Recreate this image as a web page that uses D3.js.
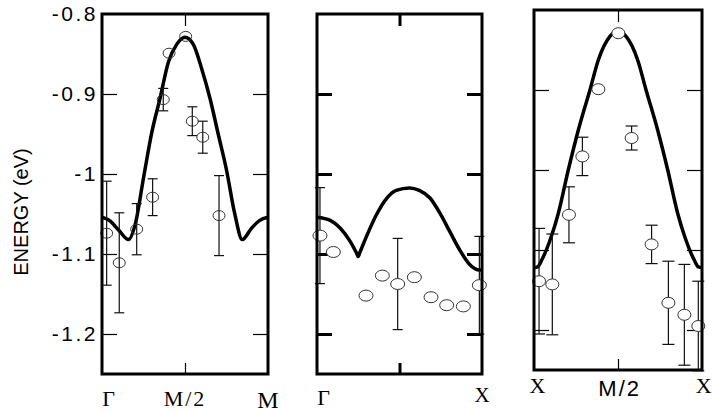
<!DOCTYPE html>
<html>
<head>
<meta charset="utf-8">
<script src="https://cdn.jsdelivr.net/npm/d3@7"></script>
<style>
body { margin: 0; background: #fff; }
</style>
</head>
<body>
<div id="chart"></div>
<script>
// Gamma -> M  (left panel)
var gmCurveK = [0, 0.05, 0.1, 0.16, 0.2, 0.25, 0.3, 0.35, 0.4, 0.45, 0.5, 0.55, 0.6, 0.65, 0.7, 0.75, 0.8, 0.845, 0.9, 0.95, 1];
var gmCurveE = [-1.054, -1.059, -1.070, -1.082, -1.063, -1.005, -0.948, -0.905, -0.860, -0.838, -0.829, -0.838, -0.868, -0.905, -0.950, -0.995, -1.050, -1.082, -1.068, -1.058, -1.054];
var gmPtK   = [0.028, 0.104, 0.209, 0.305, 0.369, 0.404, 0.504, 0.544, 0.607, 0.705];
var gmPtE   = [-1.074, -1.111, -1.069, -1.029, -0.907, -0.849, -0.828, -0.934, -0.954, -1.052];
var gmPtErr = [0.065, 0.0625, 0.032, 0.023, 0.014, 0, 0, 0.018, 0.02, 0.05];
var gmLabels = ["\u0393", "M/2", "M"];

// Gamma -> X  (middle panel)
var gxCurveK = [0, 0.08, 0.14, 0.2, 0.24, 0.25, 0.26, 0.3, 0.36, 0.42, 0.48, 0.56, 0.62, 0.685, 0.745, 0.805, 0.865, 0.925, 0.985, 1];
var gxCurveE = [-1.054, -1.058, -1.0675, -1.084, -1.099, -1.103, -1.098, -1.078, -1.051, -1.031, -1.0205, -1.0175, -1.0205, -1.030, -1.049, -1.072, -1.095, -1.113, -1.120, -1.120];
var gxPtK   = [0.018, 0.099, 0.297, 0.396, 0.489, 0.59, 0.691, 0.786, 0.887, 0.984];
var gxPtE   = [-1.077, -1.0975, -1.152, -1.127, -1.1375, -1.129, -1.154, -1.164, -1.1655, -1.139];
var gxPtErr = [0.06, 0, 0, 0, 0.057, 0, 0, 0, 0, 0.061];
var gxLabels = ["\u0393", "X"];

// X -> M/2 -> X  (right panel)
var xxCurveK = [0, 0.022, 0.046, 0.1, 0.145, 0.204, 0.264, 0.333, 0.383, 0.452, 0.5, 0.548, 0.617, 0.667, 0.736, 0.796, 0.855, 0.9, 0.954, 0.978, 1];
var xxCurveE = [-1.122, -1.121, -1.1125, -1.085, -1.054, -1.0, -0.95, -0.9, -0.8625, -0.833, -0.827, -0.833, -0.8625, -0.9, -0.95, -1.0, -1.054, -1.085, -1.1125, -1.121, -1.122];
var xxPtK   = [0.03, 0.109, 0.208, 0.288, 0.383, 0.502, 0.581, 0.70, 0.80, 0.895, 0.978];
var xxPtE   = [-1.139, -1.143, -1.056, -0.983, -0.899, -0.829, -0.96, -1.093, -1.166, -1.181, -1.195];
var xxPtErr = [0.066, 0.063, 0.035, 0.024, 0, 0, 0.015, 0.024, 0.052, 0.063, 0.056];
var xxLabels = ["X", "M/2", "X"];

var yTicks = [-0.8, -0.9, -1, -1.1, -1.2];
var innerTicks = [-0.9, -1, -1.1, -1.2];

var svg = d3.select("#chart").append("svg")
    .attr("width", 712)
    .attr("height", 412);

var panels = [
    {x0: 102, x1: 268, y0: 14, y1: 374, tickW: 1.2, fill: "none", rx: 6, ry: 5, cap: 5,
     cK: gmCurveK, cE: gmCurveE, pK: gmPtK, pE: gmPtE, pErr: gmPtErr,
     labels: gmLabels, labelK: [0.04, 0.5, 1.0], labelY: [406, 406, 408],
     labelFont: ["Liberation Serif", "Liberation Serif", "Liberation Serif"], labelSize: [22, 22, 24]},
    {x0: 317, x1: 482, y0: 14, y1: 374, tickW: 3, fill: "#fff", rx: 7, ry: 5.5, cap: 5,
     cK: gxCurveK, cE: gxCurveE, pK: gxPtK, pE: gxPtE, pErr: gxPtErr,
     labels: gxLabels, labelK: [0.04, 1.0], labelY: [405, 402],
     labelFont: ["Liberation Serif", "Liberation Serif"], labelSize: [22, 21]},
    {x0: 534, x1: 702, y0: 10, y1: 370, tickW: 1.2, fill: "#fff", rx: 6.5, ry: 5.5, cap: 6,
     cK: xxCurveK, cE: xxCurveE, pK: xxPtK, pE: xxPtE, pErr: xxPtErr,
     labels: xxLabels, labelK: [0.02, 0.51, 1.01], labelY: [393, 396, 393],
     labelFont: ["Liberation Serif", "Liberation Sans", "Liberation Serif"], labelSize: [22, 22, 22]}
];

panels.forEach(function(p, i) {
    var x = d3.scaleLinear().domain([0, 1]).range([p.x0, p.x1]);
    var y = d3.scaleLinear().domain([-1.25, -0.8]).range([p.y1, p.y0]);
    var g = svg.append("g");

    // inward ticks on all four sides
    var axes = [
        [d3.axisLeft(y).tickValues(innerTicks).tickSize(-15), "translate(" + p.x0 + ",0)"],
        [d3.axisRight(y).tickValues(innerTicks).tickSize(-15), "translate(" + p.x1 + ",0)"],
        [d3.axisTop(x).tickValues([0.5]).tickSize(-12), "translate(0," + p.y0 + ")"],
        [d3.axisBottom(x).tickValues([0.5]).tickSize(-11), "translate(0," + p.y1 + ")"]
    ];
    axes.forEach(function(a) {
        var ax = g.append("g").attr("transform", a[1]).call(a[0].tickFormat(""));
        ax.select(".domain").remove();
        ax.selectAll("line").attr("stroke", "#000").attr("stroke-width", p.tickW);
    });

    // tick labels only on the first panel
    if (i === 0) {
        var lab = g.append("g").attr("transform", "translate(" + (p.x0 - 2) + ",0)")
            .call(d3.axisLeft(y).tickValues(yTicks).tickSize(0).tickPadding(2)
                .tickFormat(function(d) { return String(d); }));
        lab.select(".domain").remove();
        lab.selectAll("text")
            .attr("font-family", "Liberation Sans, Arial, sans-serif")
            .attr("font-size", 21)
            .attr("letter-spacing", 2.5)
            .attr("fill", "#000");
    }

    var line = d3.line()
        .x(function(d) { return x(d[0]); })
        .y(function(d) { return y(d[1]); })
        .curve(d3.curveMonotoneX);

    g.append("path")
        .datum(d3.zip(p.cK, p.cE))
        .attr("d", line)
        .attr("fill", "none")
        .attr("stroke", "#000")
        .attr("stroke-width", 3.5);

    var pts = d3.zip(p.pK, p.pE, p.pErr);

    var bars = g.selectAll(".err").data(pts.filter(function(d) { return d[2] > 0; }))
        .enter().append("g").attr("class", "err")
        .attr("stroke", "#111").attr("stroke-width", 1.2);
    bars.append("line")
        .attr("x1", function(d) { return x(d[0]); })
        .attr("x2", function(d) { return x(d[0]); })
        .attr("y1", function(d) { return y(d[1] + d[2]); })
        .attr("y2", function(d) { return y(d[1] - d[2]); });
    [1, -1].forEach(function(s) {
        bars.append("line")
            .attr("x1", function(d) { return x(d[0]) - p.cap; })
            .attr("x2", function(d) { return x(d[0]) + p.cap; })
            .attr("y1", function(d) { return y(d[1] + s * d[2]); })
            .attr("y2", function(d) { return y(d[1] + s * d[2]); });
    });

    g.selectAll("ellipse").data(pts).enter().append("ellipse")
        .attr("cx", function(d) { return x(d[0]); })
        .attr("cy", function(d) { return y(d[1]); })
        .attr("rx", p.rx)
        .attr("ry", p.ry)
        .attr("fill", p.fill)
        .attr("stroke", "#333")
        .attr("stroke-width", 1);

    // frame
    g.append("rect")
        .attr("x", p.x0).attr("y", p.y0)
        .attr("width", p.x1 - p.x0).attr("height", p.y1 - p.y0)
        .attr("fill", "none")
        .attr("stroke", "#000")
        .attr("stroke-width", 3);

    g.selectAll(".klab").data(p.labels).enter().append("text")
        .attr("class", "klab")
        .attr("x", function(d, j) { return x(p.labelK[j]); })
        .attr("y", function(d, j) { return p.labelY[j]; })
        .attr("text-anchor", "middle")
        .attr("font-family", function(d, j) { return p.labelFont[j]; })
        .attr("font-size", function(d, j) { return p.labelSize[j]; })
        .attr("letter-spacing", function(d) { return d.length > 1 ? 2 : 0; })
        .text(function(d) { return d; });
});

svg.append("text")
    .attr("transform", "translate(28,212) rotate(-90)")
    .attr("text-anchor", "middle")
    .attr("font-family", "Liberation Sans, Arial, sans-serif")
    .attr("font-size", 20)
    .text("ENERGY (eV)");
</script>
</body>
</html>
